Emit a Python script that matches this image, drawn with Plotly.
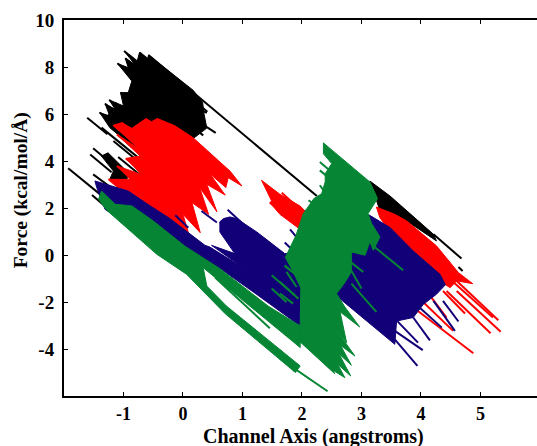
import plotly.graph_objects as go

# Force vs channel-axis position: dense sawtooth traces.
black_body_x = [-0.99,-0.77,-0.73,-0.60,-0.58,0.17,0.33,0.35,0.40,0.15,-0.39,-0.70,-1.23,-1.40,-1.23,-1.31,-1.14,-1.24,-1.00,-1.05,-0.92,-0.86,-1.10,-0.92,-0.97,-0.81,-0.99,None,
                -1.37,-1.26,-0.92,-0.97,-1.23,-1.17,-1.37,None,
                3.14,3.48,4.21,4.26,3.76,3.31,3.23,3.14]
black_body_y = [8.68,8.25,8.62,8.28,8.51,7.01,6.50,6.05,5.40,4.90,3.86,4.28,5.42,6.06,5.91,6.44,6.20,6.60,6.34,6.91,6.91,7.40,8.15,7.97,8.37,8.11,8.68,None,
                4.21,4.35,3.50,2.87,3.22,3.57,4.21,None,
                3.15,2.51,0.88,0.60,1.45,1.87,2.51,3.15]
black_run_x = [-0.99,-0.65,None,-0.91,-0.57,None,-0.82,-0.54,None,-0.73,-0.45,None,-0.67,-0.39,None,-1.10,-0.76,None,-0.97,-0.63,None,
               -0.96,-0.68,None,-0.89,-0.61,None,-1.05,-0.71,None,-0.97,-0.69,None,-0.89,-0.61,None,-1.24,-0.85,None,-1.14,-0.80,None,
               -1.31,-0.92,None,-1.40,-1.01,None,-1.26,-0.98,None,-1.61,-1.27,None,-1.37,-0.64,None,-1.17,-0.78,None,-1.09,-0.70,None,
               -1.51,-1.15,None,-1.56,-1.20,None,-1.93,-1.31,None,-1.51,-1.17,None,-1.53,-1.31,None,
               0.06,0.41,None,0.00,0.31,None,0.20,0.55,None,0.03,0.34,None,-0.11,0.17,None,0.15,0.40,None,
               -0.58,2.25,None,4.21,4.68,None,4.63,4.70,None,2.50,2.65]
black_run_y = [8.68,7.98,None,8.51,7.81,None,8.32,7.74,None,8.62,8.04,None,8.47,7.89,None,8.15,7.45,None,8.37,7.67,None,
               7.83,7.25,None,7.62,7.04,None,6.91,6.21,None,6.76,6.18,None,6.91,6.33,None,6.60,5.79,None,6.48,5.78,None,
               6.44,5.63,None,6.06,5.25,None,5.98,5.40,None,5.84,5.14,None,5.42,3.91,None,4.85,4.04,None,4.17,3.36,None,
               4.54,3.78,None,4.28,3.52,None,3.69,2.41,None,3.43,2.80,None,2.55,2.08,None,
               6.84,6.10,None,6.48,5.70,None,5.77,5.20,None,5.70,5.09,None,5.98,5.42,None,6.34,6.05,None,
               8.51,2.51,None,0.88,-0.15,None,-0.51,-0.68,None,3.79,3.46]

red_body_x = [-1.17,-1.03,-0.86,-0.62,-0.53,-0.43,-0.13,0.17,0.79,0.99,0.76,0.72,0.45,0.71,0.40,0.57,0.28,0.43,0.15,0.29,0.00,0.09,-0.16,-0.95,-1.25,-0.89,-1.11,-0.70,-0.96,-0.72,-1.11,-0.75,-1.17,None,
              1.32,1.63,1.97,2.08,2.05,2.16,1.97,1.63,1.46,1.49,1.32,None,
              3.25,3.56,3.76,4.26,4.63,4.87,4.60,4.49,3.87,3.31,3.25]
red_body_y = [5.52,5.63,5.39,5.81,5.67,5.81,5.49,4.99,3.57,2.94,3.29,2.87,3.46,2.55,3.01,1.84,2.87,1.73,2.23,0.95,1.73,0.95,1.02,2.58,3.22,3.22,3.79,3.43,4.11,4.21,5.13,4.54,5.52,None,
              3.18,2.58,2.08,1.80,1.45,0.88,1.09,1.73,2.23,2.30,3.18,None,
              2.04,1.73,1.45,0.39,-0.75,-1.22,-1.10,-1.39,-0.40,1.59,2.04]
red_run_x = [-1.03,-0.58,None,-1.17,-0.83,None,-1.11,-0.72,None,-0.96,-0.68,None,-1.11,-0.86,None,-1.25,-1.05,None,
             1.66,1.97,None,1.46,1.85,None,1.63,1.97,None,
             4.54,5.30,None,4.49,5.21,None,4.60,5.34,None,4.43,5.17,None,4.37,4.74,None,
             3.81,4.88,None,3.90,4.54,None,4.09,4.43,None,0.09,0.26]
red_run_y = [5.63,4.70,None,5.52,4.82,None,5.13,4.32,None,4.11,3.53,None,3.79,3.27,None,3.22,2.81,None,
             2.65,1.94,None,2.23,1.45,None,1.94,1.23,None,
             -0.96,-2.78,None,-1.03,-2.66,None,-1.53,-3.27,None,-1.53,-3.33,None,-1.53,-2.49,None,
             -2.12,-4.18,None,-1.67,-3.23,None,-1.53,-2.66,None,-0.54,-0.89]

blue_body_x = [-1.48,-0.92,-0.55,-0.22,0.37,0.45,1.01,0.48,0.87,0.62,0.62,0.68,0.79,0.90,1.24,1.71,2.81,3.11,3.48,3.87,4.32,4.41,4.26,4.04,3.87,3.59,3.56,2.58,1.97,1.46,1.18,0.65,0.29,-0.11,-1.31,-1.45,-1.48]
blue_body_y = [3.15,2.72,2.09,1.55,0.41,0.34,-0.54,0.41,0.06,0.98,1.41,1.55,1.62,1.55,0.98,0.06,0.17,1.73,1.17,0.17,-0.82,-1.27,-1.67,-2.10,-2.66,-2.81,-3.80,-1.74,-3.02,-2.07,-1.57,-0.62,-0.25,0.03,1.94,2.87,3.15]
blue_run_x = [-0.13,0.09,None,0.31,0.57,None,0.75,1.14,None,0.62,0.90,None,1.80,2.33,None,1.71,1.97,None,1.91,2.19,None,
              4.37,4.63,None,4.21,4.57,None,3.98,4.35,None,3.87,4.15,None,3.59,3.95,None,3.56,4.03,None,3.56,3.94,None,0.06,0.37]
blue_run_y = [1.69,1.16,None,1.87,1.38,None,1.93,1.02,None,1.41,0.85,None,1.09,-0.54,None,0.53,-0.11,None,0.38,-0.18,None,
              -1.95,-2.83,None,-1.95,-3.23,None,-2.24,-3.09,None,-2.66,-3.63,None,-2.78,-3.73,None,-3.23,-4.05,None,-3.59,-4.72,None,-0.40,-1.20]

green_body_x = [-1.37,-1.14,-0.86,-0.50,0.03,0.62,1.43,1.97,1.97,0.96,0.51,0.34,0.40,0.73,1.97,1.89,0.71,0.06,-0.44,-1.28,-1.42,-1.37,None,
                2.36,3.14,3.27,3.11,3.17,3.31,3.20,3.14,3.06,2.83,2.83,2.70,2.58,2.72,2.97,2.64,2.75,2.58,2.89,2.65,2.83,2.62,2.82,2.60,2.72,2.52,2.55,2.27,1.91,1.63,1.97,1.98,1.85,1.72,1.90,2.02,2.20,2.33,2.39,2.39,2.50,2.36,2.36]
green_body_y = [2.72,2.16,2.09,1.45,0.38,-0.58,-2.17,-3.02,-3.94,-1.81,-0.86,-0.54,-1.32,-2.17,-4.72,-5.00,-2.50,-0.82,0.03,1.90,2.37,2.72,None,
                4.77,3.11,2.40,1.76,1.34,0.77,0.20,0.56,-0.01,0.13,-0.72,-1.25,-1.64,-2.21,-3.06,-2.42,-3.73,-3.20,-4.30,-3.85,-4.69,-4.20,-5.15,-4.65,-5.22,-4.90,-5.05,-4.41,-3.56,-2.78,-2.99,-1.40,-0.70,-0.10,0.84,1.75,2.40,2.61,3.11,3.46,3.89,4.31,4.77]
green_run_x = [2.30,2.53,None,2.30,2.47,None,2.30,2.50,None,2.11,2.44,None,2.05,2.36,None,2.78,3.03,None,2.81,3.00,None,2.83,3.25,None,
               1.71,1.97,None,1.63,1.94,None,1.63,1.85,None,1.71,1.94,None,1.74,1.91,None,1.49,1.88,None,1.49,1.74,None,
               0.54,1.46,None,1.63,1.88,None,1.63,1.85,None,1.63,2.43,None,3.20,3.70]
green_run_y = [3.96,3.46,None,3.60,3.25,None,2.97,2.26,None,2.33,1.73,None,1.90,1.59,None,-0.23,-0.72,None,-0.58,-1.43,None,-1.22,-2.42,None,
               -0.44,-1.01,None,-1.15,-1.86,None,-1.64,-2.07,None,-0.48,-0.90,None,-0.72,-1.36,None,-0.86,-1.71,None,-1.43,-2.00,None,
               -0.96,-3.12,None,-4.05,-4.95,None,-4.27,-4.84,None,-4.41,-5.80,None,0.38,-0.65]

x_ticks = [-1, 0, 1, 2, 3, 4, 5]
x_tick_labels = ["-1", "0", "1", "2", "3", "4", "5"]
y_ticks = [-4, -2, 0, 2, 4, 6, 8, 10]
y_tick_labels = ["-4", "-2", "0", "2", "4", "6", "8", "10"]
x_title = "Channel Axis (angstroms)"
y_title = "Force (kcal/mol/Å)"

BLACK, RED, BLUE, GREEN = "#000000", "#ff0000", "#120078", "#068635"
series = [
    (black_body_x, black_body_y, black_run_x, black_run_y, BLACK),
    (red_body_x, red_body_y, red_run_x, red_run_y, RED),
    (blue_body_x, blue_body_y, blue_run_x, blue_run_y, BLUE),
    (green_body_x, green_body_y, green_run_x, green_run_y, GREEN),
]

fig = go.Figure()
for bx, by, rx, ry, c in series:
    fig.add_trace(go.Scatter(x=bx, y=by, mode="lines", fill="toself", fillcolor=c,
                             line=dict(color=c, width=1), showlegend=False, hoverinfo="skip"))
    fig.add_trace(go.Scatter(x=rx, y=ry, mode="lines",
                             line=dict(color=c, width=2), showlegend=False, hoverinfo="skip"))

SERIF = "Liberation Serif"
title_font_x = dict(family=SERIF, size=20, weight="bold", color="black")
title_font_y = dict(family=SERIF, size=19.5, weight="bold", color="black")
fig.update_layout(
    width=537, height=446, margin=dict(l=64, r=0, t=19.7, b=50.3),
    plot_bgcolor="white", paper_bgcolor="white",
    xaxis=dict(range=[-2, 5.95], tickvals=x_ticks, ticktext=x_tick_labels, ticks="inside", ticklen=4, tickwidth=1,
               tickcolor="black", showgrid=False, zeroline=False, showline=True, linecolor="black",
               linewidth=2, mirror="ticks", ticklabelstandoff=0,
               tickfont=dict(family=SERIF, size=18, weight="bold", color="black")),
    yaxis=dict(range=[-6, 10], tickvals=y_ticks, ticktext=y_tick_labels, ticks="inside", ticklen=4, tickwidth=1,
               tickcolor="black", showgrid=False, zeroline=False, showline=True, linecolor="black",
               linewidth=2, ticklabelstandoff=4,
               tickfont=dict(family=SERIF, size=19, weight="bold", color="black")),
    annotations=[
        dict(text=x_title, xref="paper", yref="paper", x=0.5285, y=-0.1065, xanchor="center", yanchor="middle",
             showarrow=False, font=title_font_x),
        dict(text=y_title, xref="paper", yref="paper", x=-0.0909, y=0.547, xanchor="center", yanchor="middle",
             textangle=-90, showarrow=False, font=title_font_y),
    ],
)
fig.write_html("out.html", post_script="document.body.style.margin='0';", config={"displayModeBar": False})
